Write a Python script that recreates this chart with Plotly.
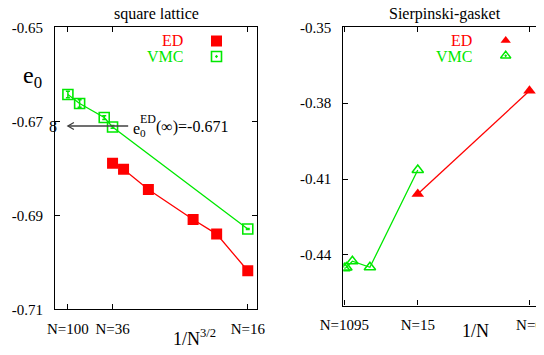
import plotly.graph_objects as go

# ---------------- data ----------------
sq_ed_N = [16, 18, 20, 26, 32, 36]
sq_ed_e0 = [-0.7018, -0.6940, -0.6909, -0.6845, -0.6802, -0.6789]
sq_vmc_N = [100, 64, 40, 36, 16]
sq_vmc_e0 = [-0.6643, -0.6662, -0.6692, -0.6712, -0.6929]
sq_vmc_err = [0.0007, 0.0008, 0.0004, 0.0003, 0.0001]
sq_tick_N = [100, 36, 16]
sq_ed_inf = -0.671
sq_yticks = [-0.65, -0.67, -0.69, -0.71]

sg_ed_N = [15, 6]
sg_ed_e0 = [-0.4159, -0.3751]
sg_vmc_N = [1095, 366, 123, 42, 15]
sg_vmc_e0 = [-0.4453, -0.4450, -0.4425, -0.4449, -0.4064]
sg_tick_N = [1095, 15, 6]
sg_yticks = [-0.35, -0.38, -0.41, -0.44]

# ---------------- geometry ----------------
W, H = 544, 355
OFF = 8  # page body margin
FONT = "Liberation Serif"
RED = "#ff0000"
GREEN = "#00e800"

Lx = (55.0, 257.3); Ly = (27.3, 309.3)
Rx = (343.3, 546.0); Ry = (27.3, 305.5)
L_xr = [-0.00005, 0.0164]; L_yr = [-0.71, -0.65]
R_xr = [0.0, (Rx[1] - Rx[0]) / 1117.0]; R_yr = [-0.46, -0.35]


def px(x):
    return (x - OFF) / W


def py(y):
    return 1 - (y - OFF) / H


def to_data(xp, yp, xd, yd, xr, yr):
    fx = (xp - xd[0]) / (xd[1] - xd[0])
    fy = (yd[1] - yp) / (yd[1] - yd[0])
    return xr[0] + fx * (xr[1] - xr[0]), yr[0] + fy * (yr[1] - yr[0])


sq_x = lambda N: 1.0 / N ** 1.5
sg_x = lambda N: 1.0 / N

fig = go.Figure()

# ---- square lattice ----
fig.add_trace(go.Scatter(
    x=[sq_x(n) for n in sq_vmc_N], y=sq_vmc_e0, mode="lines+markers",
    line=dict(color=GREEN, width=1.3),
    marker=dict(symbol="square-open", size=10, color=GREEN, line=dict(width=1.6, color=GREEN)),
    error_y=dict(type="data", array=sq_vmc_err, color=GREEN, thickness=1.5, width=2),
    xaxis="x", yaxis="y", showlegend=False))
fig.add_trace(go.Scatter(
    x=[sq_x(n) for n in sq_ed_N], y=sq_ed_e0, mode="lines+markers",
    line=dict(color=RED, width=1.3),
    marker=dict(symbol="square", size=11, color=RED),
    xaxis="x", yaxis="y", showlegend=False))

# legend keys (left)
lx, ly1 = to_data(216.5, 41, Lx, Ly, L_xr, L_yr)
_, ly2 = to_data(216.5, 56.5, Lx, Ly, L_xr, L_yr)
fig.add_trace(go.Scatter(x=[lx], y=[ly1], mode="markers",
                         marker=dict(symbol="square", size=11, color=RED),
                         xaxis="x", yaxis="y", showlegend=False))
fig.add_trace(go.Scatter(x=[lx], y=[ly2], mode="markers",
                         marker=dict(symbol="square-open-dot", size=10, color=GREEN,
                                     line=dict(width=1.6, color=GREEN)),
                         xaxis="x", yaxis="y", showlegend=False))

# ---- Sierpinski gasket ----
fig.add_trace(go.Scatter(
    x=[sg_x(n) for n in sg_vmc_N], y=sg_vmc_e0, mode="lines+markers",
    line=dict(color=GREEN, width=1.3),
    marker=dict(symbol="triangle-up-open", size=10, color=GREEN, line=dict(width=1.5, color=GREEN)),
    xaxis="x2", yaxis="y2", showlegend=False))
fig.add_trace(go.Scatter(
    x=[sg_x(n) for n in sg_ed_N], y=sg_ed_e0, mode="lines+markers",
    line=dict(color=RED, width=1.3),
    marker=dict(symbol="triangle-up", size=11, color=RED),
    xaxis="x2", yaxis="y2", showlegend=False))

rx, ry1 = to_data(505.7, 40.5, Rx, Ry, R_xr, R_yr)
_, ry2 = to_data(505.7, 55.7, Rx, Ry, R_xr, R_yr)
fig.add_trace(go.Scatter(x=[rx], y=[ry1], mode="markers",
                         marker=dict(symbol="triangle-up", size=9, color=RED),
                         xaxis="x2", yaxis="y2", showlegend=False))
fig.add_trace(go.Scatter(x=[rx], y=[ry2], mode="markers",
                         marker=dict(symbol="triangle-up-open-dot", size=9, color=GREEN,
                                     line=dict(width=1.4, color=GREEN)),
                         xaxis="x2", yaxis="y2", showlegend=False))

axis_common = dict(showline=True, linecolor="black", linewidth=1.2, mirror="ticks",
                   ticks="inside", ticklen=5, tickwidth=1.2, tickcolor="black",
                   showgrid=False, zeroline=False, automargin=False,
                   tickfont=dict(family=FONT, size=15, color="black"))

fig.update_layout(
    width=W, height=H, margin=dict(l=0, r=0, t=0, b=0, pad=0), autosize=False,
    paper_bgcolor="white", plot_bgcolor="white",
    xaxis=dict(domain=[px(Lx[0]), px(Lx[1])], range=L_xr, anchor="y",
               tickvals=[sq_x(n) for n in sq_tick_N],
               ticktext=[f"N={n}" for n in sq_tick_N], ticklabelstandoff=6, **axis_common),
    yaxis=dict(domain=[py(Ly[1]), py(Ly[0])], range=L_yr, anchor="x",
               tickvals=sq_yticks, ticktext=[f"{v:.2f}" for v in sq_yticks],
               ticklabelstandoff=8, **axis_common),
    xaxis2=dict(domain=[px(Rx[0]), px(Rx[1])], range=R_xr, anchor="y2",
                tickvals=[sg_x(n) for n in sg_tick_N],
                ticktext=[f"N={n}" for n in sg_tick_N], ticklabelstandoff=5, **axis_common),
    yaxis2=dict(domain=[py(Ry[1]), py(Ry[0])], range=R_yr, anchor="x2",
                tickvals=sg_yticks, ticktext=[f"{v:.2f}" for v in sg_yticks],
                ticklabelstandoff=8, **axis_common),
)

ann = []


def text(x, y, s, size=15, color="black", xanchor="center", yanchor="middle"):
    ann.append(dict(x=px(x), y=py(y), xref="paper", yref="paper", text=s, showarrow=False,
                    xanchor=xanchor, yanchor=yanchor,
                    font=dict(family=FONT, size=size, color=color)))


# titles
text(156.5, 14.5, "square lattice", 16)
text(445.3, 14.5, "Sierpinski-gasket", 16)
# axis titles
text(32.7, 77, "e<sub>0</sub>", 24)
text(194.5, 337, "1/N<sup>3/2</sup>", 18)
text(475.5, 331, "1/N", 18)
# legends
text(185, 41, "ED", 16, RED, xanchor="right")
text(185, 56.7, "VMC", 16, GREEN, xanchor="right")
text(474, 41, "ED", 16, RED, xanchor="right")
text(474, 56.7, "VMC", 16, GREEN, xanchor="right")
# extrapolation label
text(53, 126, "8", 16)
text(130.5, 129, "e<sub>0</sub>", 16, xanchor="left")
text(137.5, 118.5, "ED", 12, xanchor="left")
text(153.5, 127, f"(∞)={sq_ed_inf}", 16, xanchor="left")
fig.update_layout(annotations=ann)

# arrow (shaft + open head) pointing to the extrapolated value
x_from = 0.0059
x_to = sq_x(sq_tick_N[0])
hx = 6.0 / (Lx[1] - Lx[0]) * (L_xr[1] - L_xr[0])
hy = 3.5 / (Ly[1] - Ly[0]) * (L_yr[1] - L_yr[0])
fig.add_shape(type="line", xref="x", yref="y", x0=x_from, x1=x_to, y0=sq_ed_inf, y1=sq_ed_inf,
              line=dict(color="#404040", width=1.5))
fig.add_shape(type="path", xref="x", yref="y",
              path=f"M {x_to + hx},{sq_ed_inf + hy} L {x_to},{sq_ed_inf} L {x_to + hx},{sq_ed_inf - hy}",
              line=dict(color="#404040", width=1.3))

fig.write_html("out.html")
